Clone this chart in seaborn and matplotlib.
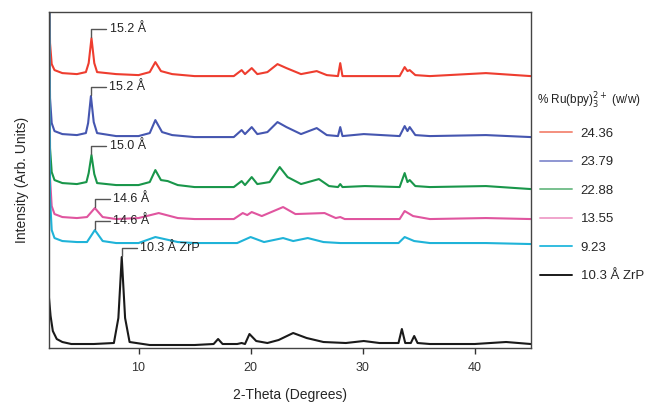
import numpy as np
import pandas as pd
import seaborn as sns
import matplotlib.pyplot as plt
from matplotlib.lines import Line2D

# XRD patterns, stacked with offsets (arb. units)
red_x = [2.0, 2.1, 2.25, 2.5, 3.2, 4.5, 5.3, 5.55, 5.8, 6.05, 6.3, 8.0, 10.0, 11.0, 11.5, 12.0, 13.0, 15.0, 18.5,
         19.2, 19.5, 20.1, 20.6, 21.5, 22.4, 23.2, 24.5, 25.9, 26.8, 27.8, 28.0, 28.2, 30.0, 33.3, 33.75, 34.0, 34.2,
         34.7, 36.0, 41.0, 45.0]
red_y = [420, 305, 284, 278, 275, 274, 276, 285, 310, 285, 276, 274, 273, 276, 286, 277, 274, 272, 272,
         278, 274, 280, 274, 276, 284, 280, 274, 277, 273, 272, 285, 272, 272, 272, 281, 277, 278,
         273, 272, 275, 272]

blue_x = [2.0, 2.1, 2.25, 2.5, 3.2, 4.5, 5.3, 5.5, 5.75, 6.0, 6.3, 8.0, 10.0, 11.0, 11.5, 12.1, 13.0, 15.0, 18.5,
          19.2, 19.5, 20.1, 20.6, 21.5, 22.4, 23.2, 24.5, 25.9, 26.8, 27.8, 28.0, 28.2, 30.1, 33.3, 33.75, 34.0, 34.2,
          34.7, 36.0, 41.0, 45.0]
blue_y = [420, 250, 225, 217, 214, 213, 215, 225, 252, 226, 215, 212, 212, 215, 228, 216, 213, 211, 211,
          218, 214, 221, 214, 216, 226, 221, 214, 220, 213, 212, 221, 212, 214, 212, 222, 217, 221,
          213, 212, 213, 211]

green_x = [2.0, 2.1, 2.25, 2.5, 3.2, 4.5, 5.35, 5.55, 5.8, 6.05, 6.3, 8.0, 10.0, 11.0, 11.5, 12.0, 12.6, 13.5, 15.0,
           18.5, 19.2, 19.5, 20.1, 20.6, 21.7, 22.6, 23.3, 24.5, 26.1, 27.0, 27.8, 28.0, 28.2, 30.2, 33.3, 33.75,
           34.0, 34.2, 34.7, 36.0, 41.0, 45.0]
green_y = [420, 200, 176, 168, 165, 164, 166, 175, 193, 174, 165, 163, 163, 166, 178, 168, 167, 163, 161,
           161, 167, 163, 171, 164, 166, 181, 171, 164, 169, 162, 161, 164, 161, 162, 161, 175,
           166, 168, 162, 161, 162, 159]

pink_x = [2.0, 2.1, 2.25, 2.5, 3.2, 4.5, 5.4, 6.1, 6.8, 8.0, 10.0, 11.8, 13.5, 15.0, 18.5, 19.3, 19.7, 20.1,
          21.0, 22.9, 24.0, 26.6, 27.6, 28.0, 28.4, 30.0, 33.3, 33.75, 34.5, 36.0, 41.0, 45.0]
pink_y = [420, 170, 142, 134, 131, 130, 131, 140, 131, 129, 130, 135, 130, 129, 129, 135, 133, 136,
          132, 141, 134, 135, 130, 131, 129, 129, 129, 137, 132, 129, 130, 129]

cyan_x = [2.0, 2.1, 2.25, 2.5, 3.2, 4.5, 5.4, 6.1, 6.8, 8.0, 10.0, 11.5, 13.5, 15.0, 18.8, 20.0, 21.2, 22.9,
          23.8, 25.1, 26.5, 28.0, 30.0, 33.2, 33.75, 34.6, 36.0, 41.0, 45.0]
cyan_y = [420, 150, 118, 110, 107, 106, 106, 118, 107, 105, 105, 111, 106, 105, 105, 111, 106, 110,
          107, 110, 106, 105, 105, 105, 111, 107, 105, 105, 104]

black_x = [2.0, 2.15, 2.35, 2.7, 3.2, 4.0, 6.0, 7.8, 8.2, 8.5, 8.8, 9.2, 11.0, 15.0, 16.7, 17.1, 17.5, 18.8, 19.2,
           19.5, 19.9, 20.5, 21.5, 22.5, 23.8, 25.0, 26.5, 28.5, 30.1, 31.5, 33.2, 33.5, 33.8, 34.3, 34.6, 34.9,
           36.0, 40.0, 42.8, 45.0]
black_y = [51, 32, 17, 9, 6, 4, 4, 5, 30, 91, 30, 6, 3, 3, 4, 9, 4, 4, 5,
           4, 14, 7, 5, 8, 15, 10, 6, 5, 7, 5, 5, 19, 5, 5, 12, 5,
           4, 4, 6, 4]

series = ["24.36", "23.79", "22.88", "13.55", "9.23", "10.3 Å ZrP"]
colors = ["#ee3d2f", "#4556b0", "#19964a", "#e0559f", "#1fb3d8", "#1a1a1a"]
legend_colors = ["#f48f7e", "#8e96d2", "#78c08e", "#f0a4cc", "#33bde0", "#1a1a1a"]

# peak labels: (series index, label, peak position)
peak_labels = [(0, "15.2 Å", 5.8), (1, "15.2 Å", 5.75), (2, "15.0 Å", 5.8),
               (3, "14.6 Å", 6.1), (4, "14.6 Å", 6.1), (5, "10.3 Å ZrP", 8.5)]

xs = [red_x, blue_x, green_x, pink_x, cyan_x, black_x]
ys = [red_y, blue_y, green_y, pink_y, cyan_y, black_y]

frames = []
for name, x, y in zip(series, xs, ys):
    frames.append(pd.DataFrame({"theta": x, "intensity": y, "sample": name}))
df = pd.concat(frames, ignore_index=True)

sns.set_style("ticks")
plt.rcParams["font.family"] = ["Liberation Sans", "DejaVu Sans"]

fig = plt.figure(figsize=(6.52, 4.04), dpi=100)
ax = fig.add_axes([0.075, 0.1386, 0.739, 0.8314])

sns.lineplot(data=df, x="theta", y="intensity", hue="sample", hue_order=series,
             palette=colors, sort=False, estimator=None, linewidth=1.5, ax=ax, legend=False)

ax.set_xlim(2, 45)
ax.set_ylim(0, 336)
ax.set_yticks([])
ax.set_xticks([10, 20, 30, 40])
ax.tick_params(axis="x", direction="out", length=4, width=1, labelsize=9, colors="#333333", pad=6)
for s in ax.spines.values():
    s.set_linewidth(1.0)
    s.set_color("#444444")
ax.set_xlabel("2-Theta (Degrees)", fontsize=10, labelpad=10)
ax.set_ylabel("Intensity (Arb. Units)", fontsize=10, labelpad=14)

# bracket labels above peaks
for i, label, px in peak_labels:
    x = np.array(xs[i])
    y = np.array(ys[i])
    j = np.argmin(np.abs(x - px))
    ax.annotate(label, xy=(x[j], y[j] + 1), xytext=(13, 6), textcoords="offset points",
                ha="left", va="center", fontsize=9, color="#222222",
                arrowprops=dict(arrowstyle="-", color="#555555", lw=1.0, shrinkA=0, shrinkB=0,
                                relpos=(0, 0.5), connectionstyle="angle,angleA=0,angleB=90,rad=0"))

handles = [Line2D([], [], color=c, lw=1.4) for c in legend_colors]
leg = ax.legend(handles, series, loc="upper left", bbox_to_anchor=(1.008, 0.672), frameon=False,
                fontsize=9.5, handlelength=2.4, handletextpad=0.7, labelspacing=1.23,
                borderaxespad=0)
fig.text(537 / 652, 1 - 101 / 404, "% Ru(bpy)$_3^{2+}$ (w/w)", fontsize=8.5,
         ha="left", va="center", color="#222222")

fig.savefig("out.png", dpi=100)
